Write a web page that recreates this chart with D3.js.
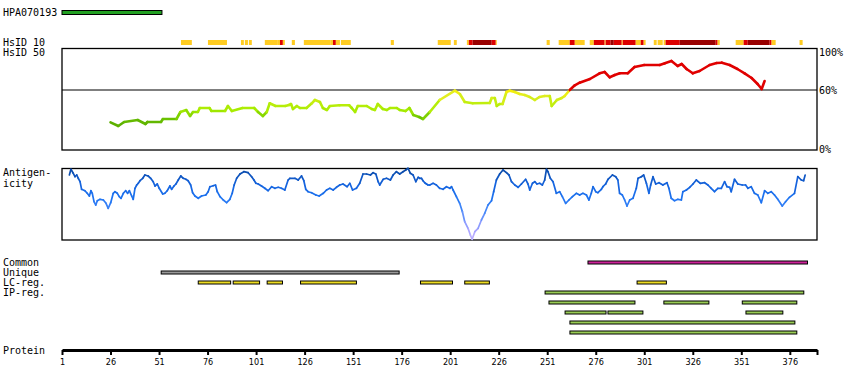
<!DOCTYPE html>
<html><head><meta charset="utf-8">
<script src="https://cdn.jsdelivr.net/npm/d3@7"></script>
<style>
html,body{margin:0;padding:0;background:#fff;}
svg text{font-family:"DejaVu Sans Mono",monospace;font-size:10px;fill:#000;}
</style></head>
<body>
<svg id="chart" width="850" height="390"></svg>
<script>
// ---------- DATA ----------
const proteinLength = 390;
const antigenName = "HPA070193";
const antigenRange = [1, 52.5];
const axisTicks = [1, 26, 51, 76, 101, 126, 151, 176, 201, 226, 251, 276, 301, 326, 351, 376];
const pctTicks = [["100%", 100], ["60%", 60], ["0%", 0]];

// HsID 10 stripes: start residue, end residue, level (1 yellow, 2 red, 3 dark red)
const hsStart = [62.3, 76.2, 93.2, 95.2, 97.3, 105.5, 112.2, 113.3, 114.8, 119.4, 125.6, 139.5, 140.6, 142.1, 144.7, 170.4, 194.6, 202.9, 209.6, 210.6, 212.6, 222.4, 224.5, 250.7, 256.9, 262.6, 265.2, 272.9, 275.0, 280.6, 281.1, 283.7, 285.3, 289.4, 289.9, 296.6, 299.2, 300.7, 305.9, 307.9, 311.0, 312.0, 319.3, 337.8, 338.8, 348.1, 352.2, 354.3, 365.6, 366.6, 381.0];
const hsEnd   = [67.9, 86.0, 94.7, 96.8, 98.8, 112.2, 113.3, 114.8, 115.8, 121.0, 139.5, 140.6, 142.1, 144.2, 149.8, 172.0, 201.3, 204.4, 210.6, 212.6, 222.4, 224.5, 225.0, 252.3, 262.6, 265.2, 270.3, 275.0, 280.6, 281.1, 283.7, 285.3, 289.4, 289.9, 296.6, 299.2, 300.7, 301.7, 307.4, 310.5, 312.0, 319.3, 337.8, 338.8, 339.9, 352.2, 354.3, 365.6, 366.6, 368.7, 382.6];
const hsLevel = [1, 1, 1, 1, 1, 1, 1, 2, 1, 1, 1, 1, 2, 1, 1, 1, 1, 1, 1, 2, 3, 2, 1, 1, 1, 2, 1, 1, 2, 1, 2, 3, 2, 1, 2, 1, 2, 1, 1, 1, 1, 2, 3, 2, 1, 1, 2, 3, 2, 1, 1];

// HsID 50 identity (%)
const idRes = [26, 30, 33, 40, 44, 45, 52, 53, 60, 62, 65, 67, 68.5, 71, 72, 77, 78, 85, 86.5, 88.5, 94, 100, 102, 104.5, 106.5, 108, 111, 116, 118, 119, 120, 122, 123.6, 127, 129.7, 131.3, 133.9, 135.4, 137.5, 139, 144, 149, 150.3, 152, 153.4, 158, 160.6, 162.2, 163.7, 166.3, 168.4, 170, 173.5, 175, 178, 180, 182, 185, 187, 190.5, 195.6, 203.4, 206, 208.5, 212.6, 221.4, 222.4, 224, 225, 226.5, 228, 230, 231.7, 234.3, 236.8, 239.4, 242, 244.6, 247, 249.7, 252.3, 253.3, 256, 258.5, 260, 262.6, 265.2, 267.7, 273, 278, 280.6, 283.2, 285.8, 288.4, 292.5, 296, 301, 309, 311.6, 315, 318.2, 320.3, 322.8, 326, 329.5, 334.7, 338.3, 341, 345, 349, 352.7, 356.3, 359.4, 361.5, 363];
const idVal = [27.7, 24, 28, 30, 26, 28, 28, 31, 31, 38, 40, 34, 38, 38, 42, 42, 39, 39, 44, 39, 42, 42, 38, 34, 38, 46.7, 44, 44, 45, 46, 41, 44, 42, 42, 46.7, 50, 48, 42, 40, 44, 44.7, 44.7, 42, 38, 44, 44, 41, 40, 46, 41, 40, 42, 42, 40, 39, 42, 35, 33, 31, 38, 50, 59.3, 56, 48, 46.7, 47, 52, 52, 44, 46, 46, 58, 59.3, 58, 56, 55, 53, 50, 53, 54, 54, 44, 50, 52, 54, 60, 64.7, 67.3, 71, 76.7, 78, 72.7, 75, 76.7, 76.7, 83, 85, 85, 86.7, 89, 84, 86, 81, 76.7, 79, 85, 87, 87.3, 85, 81, 76.7, 72, 66, 61, 69];

// Antigenicity (relative score, 0 = bottom of panel, 72 = top)
const agRes = [4.8, 5.6, 6.8, 7.7, 8.6, 9.4, 10.3, 11.1, 12.8, 14.0, 15.1, 15.9, 16.6, 17.5, 18.4, 19.2, 20.6, 22.3, 23.7, 24.8, 26.1, 27.4, 28.3, 29.5, 30.5, 31.4, 32.6, 33.8, 34.8, 35.7, 36.9, 37.7, 38.6, 39.5, 40.3, 41.2, 42.6, 43.7, 45.4, 46.7, 48.0, 48.9, 50.1, 51.1, 52.9, 54.0, 55.2, 56.6, 57.5, 58.7, 59.7, 60.9, 62.2, 63.5, 64.8, 66.0, 67.3, 68.3, 69.5, 71.2, 72.9, 75.1, 76.3, 77.2, 78.9, 80.1, 81.0, 82.4, 84.1, 85.8, 87.5, 88.7, 89.7, 91.0, 92.7, 94.7, 96.9, 98.7, 99.9, 100.9, 102.1, 103.8, 105.5, 107.2, 109.0, 110.7, 112.4, 114.1, 115.8, 117.5, 118.4, 121.0, 122.7, 124.4, 125.6, 126.6, 127.8, 129.6, 131.8, 133.5, 135.6, 137.3, 139.0, 140.7, 142.4, 144.1, 145.8, 147.9, 149.3, 150.7, 152.7, 154.4, 156.1, 157.9, 159.9, 161.3, 162.7, 163.9, 164.7, 166.5, 168.2, 170.2, 171.6, 173.3, 175.0, 176.7, 178.1, 179.3, 180.5, 181.9, 183.3, 184.5, 185.3, 186.2, 187.0, 187.9, 188.8, 189.6, 190.5, 192.2, 193.9, 195.6, 197.3, 199.1, 200.8, 201.7, 202.5, 204.2, 205.9, 207.3, 208.5, 210.2, 211.4, 212.3, 213.7, 215.4, 217.1, 218.8, 220.5, 222.3, 223.4, 224.8, 226.5, 228.2, 230.0, 231.3, 232.6, 234.3, 236.0, 237.7, 239.9, 241.1, 242.0, 243.4, 244.6, 245.7, 247.1, 248.5, 249.7, 250.6, 251.4, 252.6, 254.0, 255.7, 257.4, 258.8, 260.5, 262.2, 264.0, 266.0, 267.7, 269.4, 271.2, 272.5, 273.7, 274.6, 276.0, 277.1, 278.9, 279.7, 281.1, 282.3, 284.6, 286.3, 287.4, 288.3, 289.7, 290.9, 292.1, 293.5, 295.2, 296.9, 297.8, 299.5, 300.7, 302.1, 303.4, 304.3, 305.5, 306.9, 308.6, 310.6, 312.7, 313.7, 314.9, 316.6, 318.3, 320.1, 320.9, 322.7, 324.4, 326.1, 327.8, 329.9, 332.1, 333.8, 335.5, 337.2, 338.9, 340.7, 342.4, 343.6, 345.0, 345.8, 347.5, 349.2, 351.5, 353.2, 354.4, 356.1, 357.8, 359.5, 361.3, 363.0, 364.7, 366.4, 368.1, 369.8, 372.1, 373.8, 375.8, 378.4, 380.1, 381.9, 383.1, 383.9];
const agVal = [65, 70.7, 66.7, 63.3, 65, 61.7, 58.3, 50.7, 49.3, 46.7, 44, 49.3, 46.7, 38.3, 35, 39.3, 40.7, 40, 36.7, 31.7, 37.3, 46.7, 48.3, 46.7, 43.3, 41.7, 46.7, 49.3, 46.7, 49.3, 44, 40.7, 51.7, 55, 56.7, 59.3, 61.7, 65, 64, 61.7, 58.3, 54, 56, 51.7, 46, 46.7, 49.3, 54, 50.7, 54, 56, 60, 64, 61.7, 60.7, 59.3, 55, 47.3, 44, 41.7, 44, 45, 48.3, 53.3, 54.3, 55, 48.3, 43.3, 40, 37.3, 40.7, 46.7, 55, 61.7, 66, 68.3, 67.3, 63.3, 60, 56.7, 56, 54, 51.7, 49.3, 53.3, 51.7, 52.7, 51.7, 50, 60, 61.7, 61.7, 60, 64, 59.3, 50.7, 48.3, 47.3, 45, 44, 46.7, 50, 51.7, 50, 52.7, 55, 56, 53.3, 56.7, 50, 51.7, 56.7, 66, 66, 65, 67.3, 66, 58.3, 55, 60.7, 61.7, 60, 65, 68.3, 66, 68.3, 70, 71.7, 66.7, 65, 58.3, 62.7, 61.7, 61.7, 59.3, 57.3, 56, 55, 55, 56.7, 55, 51.7, 50.7, 53.3, 51.7, 53.3, 50, 43.3, 36.7, 28.3, 18.3, 11.7, 5, 0.7, 8.3, 11.7, 20, 26.7, 35, 39.3, 48.3, 60, 66, 70, 67.3, 65, 58.3, 55, 52.7, 56, 60.7, 56, 50, 56.7, 58.3, 56, 56.7, 55, 60, 70.7, 68.3, 61.7, 58.3, 46.7, 48.3, 43.3, 36.7, 40, 43.3, 46.7, 45, 46.7, 45, 40, 46.7, 53.3, 48.3, 47.3, 50.7, 53.3, 56, 60.7, 65, 63.3, 60, 46.7, 45, 40, 34, 40, 41.7, 51.7, 61.7, 63.3, 65, 56.7, 46.7, 55, 63.3, 56, 57.3, 55, 57.3, 51.7, 41.7, 39.3, 40.7, 40, 48.3, 50, 52.7, 56, 60, 56.7, 57.3, 55, 51.7, 48.3, 51.7, 51.7, 58.3, 53.3, 52.7, 48.3, 60.7, 56, 55, 55, 51.7, 53.3, 46.7, 45, 37.3, 49.3, 46.7, 48.3, 45, 40.7, 34, 38.3, 42.7, 46.7, 63.3, 60, 59.3, 65];

// Feature rows
const rowLabels = ["Common", "Unique", "LC-reg.", "IP-reg."];
const commonRegions = [[272, 385.1]];
const uniqueRegions = [[52.1, 174.7]];
const lcRegions = [[71.2, 87.9], [89.2, 102.8], [106.7, 114.6], [123.9, 152.7], [185.7, 202.2], [208.5, 221.2], [297.3, 312.4]];
const ipRows = [
  [[249.9, 383.2]],
  [[251.9, 296.2], [311.1, 334.3], [351.5, 379.6]],
  [[260.2, 281.3], [282.3, 300.3], [353.4, 372.4]],
  [[262.7, 378.6]],
  [[262.7, 379.6]]
];

// ---------- DRAW ----------
const svg = d3.select("#chart");
const x = d3.scaleLinear().domain([1, proteinLength]).range([62, 817]);

// antigen bar
svg.append("text").attr("x", 3).attr("y", 16).text(antigenName);
svg.append("rect").attr("x", x(antigenRange[0])).attr("y", 10.5)
  .attr("width", x(antigenRange[1]) - x(antigenRange[0])).attr("height", 4)
  .attr("fill", "#22a022").attr("stroke", "#000").attr("stroke-width", 1);

// HsID labels
svg.append("text").attr("x", 3).attr("y", 46).text("HsID 10");
svg.append("text").attr("x", 3).attr("y", 56).text("HsID 50");

const hsColor = {1: "#ffcc22", 2: "#dd0000", 3: "#990000"};
svg.append("g").selectAll("rect").data(d3.range(hsStart.length)).join("rect")
  .attr("x", i => x(hsStart[i])).attr("y", 40)
  .attr("width", i => x(hsEnd[i]) - x(hsStart[i])).attr("height", 5)
  .attr("fill", i => hsColor[hsLevel[i]]);

// identity panel
const y1 = d3.scaleLinear().domain([0, 100]).range([150, 50]);
svg.append("rect").attr("x", 62).attr("y", 48.5).attr("width", 755).attr("height", 101.5)
  .attr("fill", "none").attr("stroke", "#000").attr("stroke-width", 1.3);
svg.append("line").attr("x1", 62).attr("x2", 817).attr("y1", y1(60)).attr("y2", y1(60))
  .attr("stroke", "#000").attr("stroke-width", 1.2);
svg.selectAll(".pct").data(pctTicks).join("text").attr("class", "pct")
  .attr("x", 819).attr("y", d => Math.min(Math.max(y1(d[1]) + 4, 56), 153)).text(d => d[0]);

const idColor = d3.scaleLinear()
  .domain([24, 32, 40, 48, 55, 59.9])
  .range(["#58aa00", "#6cc400", "#a6ec00", "#c4ee10", "#e4ee20", "#fbee00"]);
const idSegColor = v => v >= 60 ? "#e00000" : idColor(v);
const idPts = idRes.map((r, i) => [x(r), y1(idVal[i]), idVal[i]]);
const gId = svg.append("g");
for (let i = 0; i < idPts.length - 1; i++) {
  const a = idPts[i], b = idPts[i + 1];
  const m = (a[2] + b[2]) / 2;
  gId.append("line").attr("x1", a[0]).attr("y1", a[1]).attr("x2", b[0]).attr("y2", b[1])
    .attr("stroke", idSegColor(m)).attr("stroke-width", 2.6).attr("stroke-linecap", "round");
}

// antigenicity panel
svg.append("text").attr("x", 3).attr("y", 176).text("Antigen-");
svg.append("text").attr("x", 3).attr("y", 187).text("icity");
const y2 = d3.scaleLinear().domain([0, 72]).range([240, 168]);
svg.append("rect").attr("x", 62).attr("y", 168.5).attr("width", 755).attr("height", 71.5)
  .attr("fill", "none").attr("stroke", "#000").attr("stroke-width", 1.3);
const agColor = d3.scaleLinear()
  .domain([0, 12, 28, 42, 56, 70])
  .range(["#c4b4ff", "#a0a0ff", "#4c8cfa", "#1e74f2", "#1462dc", "#0a4aa8"]);
const agPts = agRes.map((r, i) => [x(r), y2(agVal[i]), agVal[i]]);
const gAg = svg.append("g");
for (let i = 0; i < agPts.length - 1; i++) {
  const a = agPts[i], b = agPts[i + 1];
  gAg.append("line").attr("x1", a[0]).attr("y1", a[1]).attr("x2", b[0]).attr("y2", b[1])
    .attr("stroke", agColor((a[2] + b[2]) / 2)).attr("stroke-width", 1.7).attr("stroke-linecap", "round");
}

// feature rows
rowLabels.forEach((t, i) => svg.append("text").attr("x", 3).attr("y", 266 + i * 10).text(t));
function bars(regions, rowY, fill) {
  svg.append("g").selectAll("rect").data(regions).join("rect")
    .attr("x", d => x(d[0])).attr("y", rowY)
    .attr("width", d => x(d[1]) - x(d[0])).attr("height", 3)
    .attr("fill", fill).attr("stroke", "#000").attr("stroke-width", 1);
}
bars(commonRegions, 261, "#cc2299");
bars(uniqueRegions, 271, "#999999");
bars(lcRegions, 281, "#eedd22");
ipRows.forEach((row, k) => bars(row, 291 + k * 10, "#99cc55"));

// protein axis
svg.append("text").attr("x", 3).attr("y", 354).text("Protein");
const axis = d3.axisBottom(x).tickValues(axisTicks.concat([proteinLength]))
  .tickSize(5).tickSizeOuter(0).tickFormat(d => d === proteinLength ? "" : d);
const gAx = svg.append("g").attr("transform", "translate(0,350)").call(axis);
gAx.select(".domain").attr("stroke", "#000").attr("stroke-width", 3);
gAx.selectAll(".tick line").attr("stroke", "#000").attr("stroke-width", 2);
gAx.selectAll(".tick text").attr("y", 9).attr("dy", "0.71em")
  .style("font-family", "'DejaVu Sans Condensed','Liberation Sans Narrow','DejaVu Sans',sans-serif")
  .style("font-stretch", "condensed").style("font-size", "9px").attr("fill", "#000");
</script>
</body></html>
